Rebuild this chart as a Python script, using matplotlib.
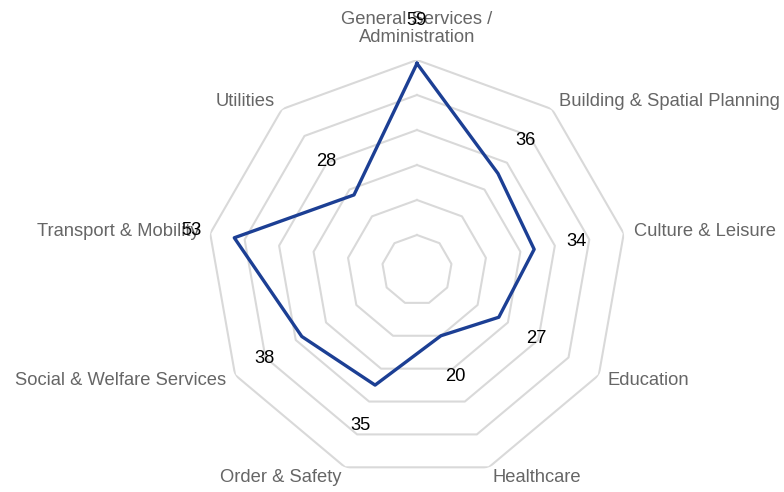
import numpy as np
from matplotlib import pyplot as plt

plt.rcParams['font.family'] = ['Liberation Sans', 'DejaVu Sans']

categories = ["General Services /\nAdministration", "Building & Spatial Planning",
              "Culture & Leisure", "Education", "Healthcare", "Order & Safety",
              "Social & Welfare Services", "Transport & Mobility", "Utilities"]
values = [59, 36, 34, 27, 20, 35, 38, 53, 28]
rings = [10, 20, 30, 40, 50, 60]

n = len(categories)
theta = np.arange(n) * 2 * np.pi / n

fig = plt.figure(figsize=(7.84, 4.92), dpi=100)
ax = fig.add_axes([0.264, 0.0244, 0.5357, 0.8537], polar=True)
ax.set_theta_zero_location('N')
ax.set_theta_direction(-1)
ax.set_ylim(0, 60)
ax.grid(False)
ax.spines['polar'].set_visible(False)
ax.set_xticks([])
ax.set_yticks([])

# polygon rings
t_closed = np.append(theta, theta[0])
for r in rings:
    ax.plot(t_closed, [r] * (n + 1), color='#d9d9d9', linewidth=1.5, zorder=1)

v_closed = values + values[:1]
ax.plot(t_closed, v_closed, color='#1c3f94', linewidth=2.4, zorder=3)

# value labels
for t, v in zip(theta, values):
    ax.text(t, v + 12.3, str(v), ha='center', va='center', fontsize=13.2,
            color='black', zorder=4)

# category labels
for t, lab in zip(theta, categories):
    s = np.sin(t)
    if abs(s) < 0.05:
        ha = 'center'
        rr = 69
    elif s > 0:
        ha = 'left'
        rr = 63
    else:
        ha = 'right'
        rr = 63
    ax.text(t, rr, lab, ha=ha, va='center', fontsize=13.2, color='#666666',
            multialignment='center', linespacing=1.05)

fig.savefig('out.png', dpi=100)
